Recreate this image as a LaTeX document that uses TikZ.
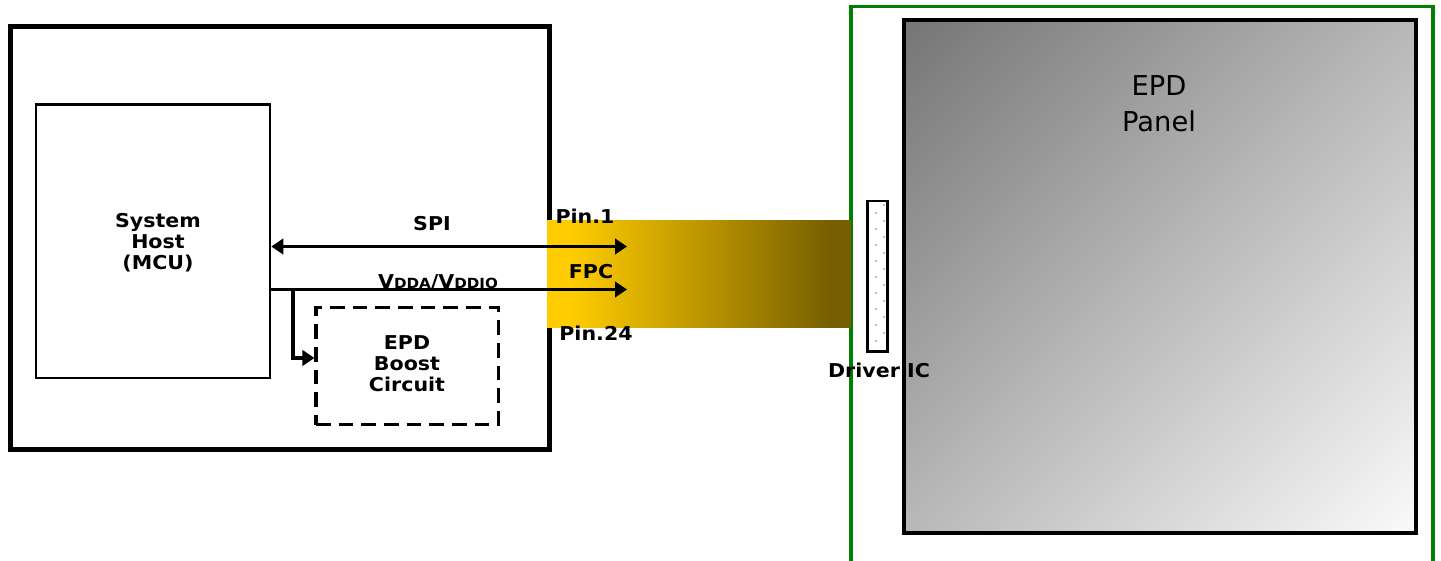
\documentclass[tikz,border=0pt]{standalone}
\usepackage{fontspec}
\setmainfont{DejaVu Sans}
\newfontfamily\lblfont{DejaVu Sans}[FakeStretch=1.08]
\usepackage{xcolor}
\usetikzlibrary{arrows.meta, fit}
\definecolor{fpcA}{RGB}{255,204,0}
\definecolor{fpcB}{RGB}{118,94,0}
\definecolor{framegreen}{RGB}{0,128,0}
\definecolor{panelA}{RGB}{118,118,118}
\definecolor{panelB}{RGB}{249,249,249}
\pgfdeclareverticalshading{panelshade}{100bp}{color(0bp)=(panelB); color(15bp)=(panelB); color(85bp)=(panelA); color(100bp)=(panelA)}
\pgfdeclarehorizontalshading{fpcshade}{100bp}{color(0bp)=(fpcA); color(29bp)=(fpcA); color(72bp)=(fpcB); color(100bp)=(fpcB)}
\tikzset{every node/.append style={font=\lblfont\fontsize{14.3}{15.75}\selectfont\bfseries}}

\begin{document}
\begin{tikzpicture}[x=0.75pt, y=-0.75pt,
    wire/.style={line width=2.5pt},
    tip/.style={-{Triangle[length=9pt, width=11.5pt]}},
    boxfit/.style={inner sep=0pt, draw=black},
    lbl/.style={align=center, inner sep=0pt},
    ttl/.style={font=\fontsize{20.5}{27}\selectfont, align=center, inner sep=0pt}]
    \useasboundingbox (0,0) rectangle (1441,560);
    \clip (0,0) rectangle (1441,560);
    % display module
    \node[boxfit, draw=framegreen, line width=2.4pt, fit={(851,6.5) (1433,590)}] (frame) {};
    \node[boxfit, line width=3pt, shading=panelshade, shading angle=45, fit={(903.5,20) (1415.5,532.5)}] (panel) {};
    \node[ttl] (paneltxt) at (1159,104) {EPD\\Panel};
    \node[boxfit, fill=white, line width=2pt, fit={(867.5,201) (887.5,351.5)}] (drvic) {};
    \foreach \y in {213,229,...,341} \fill[gray] (876,\y) circle[radius=0.6pt];
    \foreach \y in {205,221,...,333} \fill[gray] (884,\y) circle[radius=0.6pt];
    \node[lbl, anchor=base] (drvtxt) at (879,377) {Driver IC};
    % host side
    \node[boxfit, line width=3.75pt, fit={(10.5,26.5) (549.5,449.5)}] (host) {};
    \node[boxfit, line width=1.9pt, fit={(36,104.5) (270,378)}] (mcu) {};
    \node[lbl] (mcutxt) at (158,243) {System\\Host\\(MCU)};
    \node[boxfit, dashed, dash pattern=on 11pt off 6pt, line width=2.3pt, fit={(316,307.5) (498.5,424.5)}] (boost) {};
    \node[lbl] (boosttxt) at (407,364) {EPD\\Boost\\Circuit};
    % flexible cable
    \node[inner sep=0pt, shading=fpcshade, fit={(547,220) (851,327)}] (fpc) {};
    \node[lbl, anchor=base] (pin1) at (585,223) {Pin.1};
    \node[lbl, anchor=base] (fpctxt) at (591,278) {FPC};
    \node[lbl, anchor=base] (pin24) at (596,340) {Pin.24};
    % signals
    \coordinate (spitip) at (627,246.5);
    \coordinate (vddtip) at (627,289.5);
    \coordinate (tap) at (293,289.5);
    \coordinate (boostin) at (boost.west |- 0,358);
    \draw[wire, {Triangle[length=9pt, width=11.5pt]}-{Triangle[length=9pt, width=11.5pt]}] (mcu.east |- spitip) -- (spitip);
    \draw[wire, tip] (mcu.east |- vddtip) -- (vddtip);
    \draw[wire, tip] (tap) |- (boostin);
    \node[lbl, anchor=base] (spitxt) at (432,230) {SPI};
    \node[lbl, anchor=base] (vddtxt) at (438,288) {V{\fontsize{10.5}{11}\selectfont DDA}/V{\fontsize{10.5}{11}\selectfont DDIO}};
\end{tikzpicture}
\end{document}
